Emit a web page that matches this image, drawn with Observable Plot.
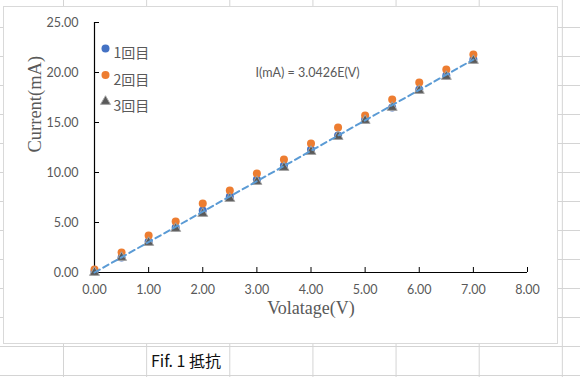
<!DOCTYPE html>
<html>
<head>
<meta charset="utf-8">
<script src="https://cdn.jsdelivr.net/npm/d3@7"></script>
<script src="https://cdn.jsdelivr.net/npm/@observablehq/plot@0.6"></script>
<style>
  html, body { margin: 0; padding: 0; background: #fff; }
  #sheet {
    position: relative; width: 580px; height: 377px; overflow: hidden;
    background-color: #fff;
    background-image:
      linear-gradient(to right, #d4d4d4 1px, transparent 1px),
      linear-gradient(to bottom, #d4d4d4 1px, transparent 1px);
    background-size: 83.15px 29px;
    background-position: -20.15px -2px;
  }
  #box {
    position: absolute; left: 3px; top: 6px; width: 555px; height: 338px;
    box-sizing: border-box; background: #fff; border: 1px solid #d9d9d9;
  }
  #plot { position: absolute; left: 0; top: 0; }
  #caption {
    position: absolute; left: 151px; top: 350px;
    font-family: "Noto Sans CJK JP", sans-serif; font-size: 16px; line-height: 20px; color: #111;
  }
</style>
</head>
<body>
<div id="sheet">
  <div id="box"></div>
  <div id="plot"></div>
  <div id="caption"></div>
</div>
<script>
const voltage = [0, 0.5, 1, 1.5, 2, 2.5, 3, 3.5, 4, 4.5, 5, 5.5, 6, 6.5, 7];
const run1 = [0.1, 1.5, 3.1, 4.5, 6.2, 7.6, 9.3, 10.7, 12.3, 13.7, 15.3, 16.5, 18.3, 19.7, 21.3];
const run2 = [0.3, 2.0, 3.7, 5.1, 6.9, 8.2, 9.9, 11.3, 12.9, 14.5, 15.7, 17.3, 19.0, 20.3, 21.8];
const run3 = [0.0, 1.5, 3.0, 4.4, 5.9, 7.4, 9.1, 10.5, 12.1, 13.6, 15.2, 16.5, 18.2, 19.6, 21.2];
const seriesNames = ["1回目", "2回目", "3回目"];
const seriesColors = ["#4472C4", "#ED7D31", "#595959"];
const seriesSymbols = ["circle", "circle", "triangle"];
const slope = 3.0426;
const trendX = [0, 7];
const xTicks = [0, 1, 2, 3, 4, 5, 6, 7, 8];
const yTicks = [0, 5, 10, 15, 20, 25];
const xTitle = "Volatage(V)";
const yTitle = "Current(mA)";
const equation = "I(mA) = 3.0426E(V)";
const caption = "Fif. 1 抵抗";

document.getElementById("caption").textContent = caption;

const runs = [run1, run2, run3];
const points = runs.flatMap((r, s) => voltage.map((v, i) => ({v, c: r[i], s})));
const trend = trendX.map(v => ({v, c: slope * v}));

const tickFont = "Lato, 'Open Sans', sans-serif";
const grayText = "#595959";

const legendMarks = seriesNames.flatMap((name, i) => [
  Plot.dot([name], {frameAnchor: "top-left", dx: 11, dy: 26 + i * 26.5,
    symbol: seriesSymbols[i], r: i === 2 ? 3.7 : 4, fill: seriesColors[i],
    stroke: i === 2 ? "#a6a6a6" : "none", strokeWidth: 1}),
  Plot.text([name], {frameAnchor: "top-left", dx: 19, dy: 26 + i * 26.5, text: d => d,
    textAnchor: "start", fontSize: 14, fontFamily: "'Noto Sans CJK JP', sans-serif", fill: grayText})
]);

const chart = Plot.plot({
  width: 580,
  height: 345,
  marginLeft: 94,
  marginRight: 53,
  marginTop: 22,
  marginBottom: 73,
  style: {background: "transparent", overflow: "visible"},
  x: {domain: [0, 8]},
  y: {domain: [0, 25]},
  marks: [
    Plot.axisX({ticks: xTicks, tickSize: 0, tickPadding: 13, tickFormat: d => d.toFixed(2), label: null,
      fontSize: 12.5, fontFamily: tickFont, fill: grayText}),
    Plot.axisX({ticks: xTicks, tickSize: -5, tickFormat: () => "", label: null, stroke: "#000"}),
    Plot.axisY({ticks: yTicks, tickSize: 0, tickPadding: 16, tickFormat: d => d.toFixed(2), label: null,
      fontSize: 12.5, fontFamily: tickFont, fill: grayText}),
    Plot.axisY({ticks: yTicks, tickSize: -5, tickFormat: () => "", label: null, stroke: "#000"}),
    Plot.ruleX([0], {stroke: "#000", strokeWidth: 1.2}),
    Plot.ruleY([0], {stroke: "#000", strokeWidth: 1.2}),
    Plot.dot(points.filter(d => d.s === 0), {x: "v", y: "c", r: 4, fill: seriesColors[0]}),
    Plot.dot(points.filter(d => d.s === 1), {x: "v", y: "c", r: 4, fill: seriesColors[1]}),
    Plot.dot(points.filter(d => d.s === 2), {x: "v", y: "c", r: 3.7, symbol: "triangle",
      fill: seriesColors[2], stroke: "#a6a6a6", strokeWidth: 1}),
    Plot.line(trend, {x: "v", y: "c", stroke: "#5B9BD5", strokeWidth: 2, strokeDasharray: "6,4"}),
    Plot.text([equation], {frameAnchor: "top-left", dx: 161, dy: 46, text: d => d, textAnchor: "start",
      fontSize: 12.5, fontFamily: tickFont, fill: grayText}),
    Plot.text([yTitle], {frameAnchor: "left", dx: -59, dy: 5, rotate: -90, text: d => d,
      fontSize: 18.5, fontFamily: "'Liberation Serif', serif", fill: grayText}),
    Plot.text([xTitle], {frameAnchor: "bottom", dy: 41, text: d => d,
      fontSize: 18, fontFamily: "'Liberation Serif', serif", fill: grayText}),
    ...legendMarks
  ]
});
document.getElementById("plot").appendChild(chart);
</script>
</body>
</html>
